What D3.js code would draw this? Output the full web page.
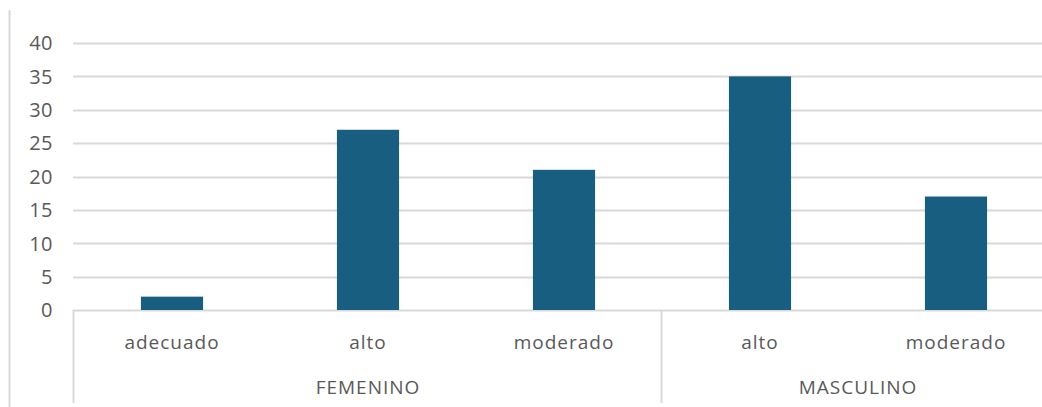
<!DOCTYPE html>
<html><head><meta charset="utf-8">
<script src="https://cdn.jsdelivr.net/npm/d3@7"></script>
<style>html,body{margin:0;padding:0;background:#fff;overflow:hidden}</style>
</head><body>
<svg id="c" width="1042" height="407"></svg>
<script>
const groups = ["FEMENINO","FEMENINO","FEMENINO","MASCULINO","MASCULINO"];
const categories = ["adecuado","alto","moderado","alto","moderado"];
const values = [2,27,21,35,17];
const groupNames = ["FEMENINO","MASCULINO"];
const groupSizes = [3,2];
const yTicks = [0,5,10,15,20,25,30,35,40];

(function(){
const svg = d3.select("#c");
const font = "'Open Sans', 'Noto Sans', sans-serif";
const plotLeft = 74, catStep = 196, plotTop = 43, plotBottom = 310;
const x = d3.scaleBand().domain(d3.range(values.length))
  .range([plotLeft, plotLeft + catStep*values.length]).paddingInner(0.683).paddingOuter(0.3415);
const y = d3.scaleLinear().domain([0,40]).range([plotBottom, plotTop]);

svg.append("line").attr("x1",9.5).attr("x2",9.5).attr("y1",10).attr("y2",407)
  .attr("stroke","#d9d9d9").attr("stroke-width",2);

svg.append("g").selectAll("line").data(yTicks).join("line")
  .attr("x1",plotLeft-1).attr("x2",1042)
  .attr("y1",d=>Math.round(y(d))+0.5).attr("y2",d=>Math.round(y(d))+0.5)
  .attr("stroke","#d9d9d9").attr("stroke-width",2);

svg.append("g").selectAll("text").data(yTicks).join("text")
  .attr("x",53).attr("y",d=>y(d)+7.3)
  .attr("text-anchor","end").attr("font-family",font).attr("font-size",20)
  .attr("letter-spacing",0.5)
  .attr("fill","#595959").text(d=>d);

svg.append("g").selectAll("rect").data(values).join("rect")
  .attr("x",(d,i)=>x(i)).attr("width",x.bandwidth())
  .attr("y",d=>y(d)).attr("height",d=>y(0)-y(d))
  .attr("fill","#175e80");

svg.append("g").selectAll("text").data(categories).join("text")
  .attr("x",(d,i)=>x(i)+x.bandwidth()/2).attr("y",349)
  .attr("text-anchor","middle").attr("font-family",font).attr("font-size",19)
  .attr("letter-spacing",1)
  .attr("fill","#595959").text(d=>d);

let start = 0;
const bounds = [0];
groupSizes.forEach(s=>{start+=s; bounds.push(start);});
svg.append("g").selectAll("line").data(bounds.slice(0,-1)).join("line")
  .attr("x1",d=>plotLeft + d*catStep - 0.5).attr("x2",d=>plotLeft + d*catStep - 0.5)
  .attr("y1",310).attr("y2",403)
  .attr("stroke","#d9d9d9").attr("stroke-width",2);
svg.append("g").selectAll("text").data(groupNames).join("text")
  .attr("x",(d,i)=>plotLeft + (bounds[i]+bounds[i+1])/2*catStep).attr("y",394)
  .attr("text-anchor","middle").attr("font-family",font).attr("font-size",19)
  .attr("letter-spacing",1)
  .attr("fill","#595959").text(d=>d);
})();
</script>
</body></html>
